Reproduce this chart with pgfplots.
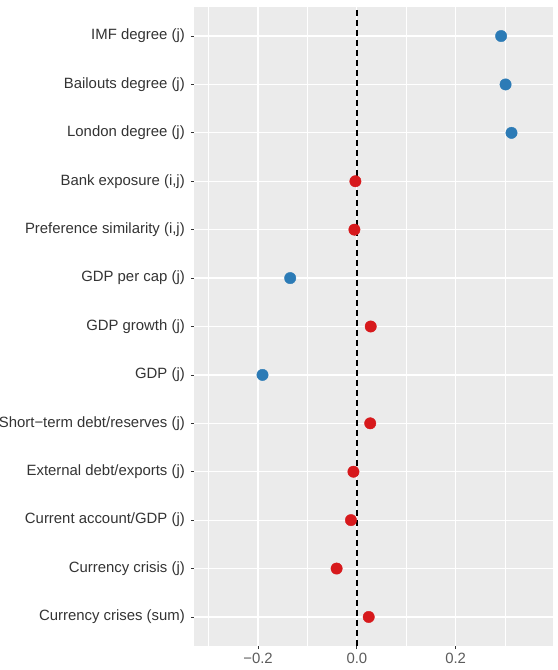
\documentclass[border=0pt]{standalone}
\usepackage{pgfplots}
\pgfplotsset{compat=1.18}
\usepackage{fontspec}
\setmainfont{Liberation Sans}

\definecolor{panelbg}{HTML}{EBEBEB}
\definecolor{ticktext}{HTML}{333333}
\definecolor{tickmark}{HTML}{333333}
\definecolor{negblue}{HTML}{2C7BB6}
\definecolor{posred}{HTML}{D7191C}

% Coefficients: y position (row, 0 = bottom) and estimate
\pgfplotstableread{
row est
12  0.292
11  0.301
10  0.313
 7 -0.135
 5 -0.191
}\bluepts
\pgfplotstableread{
row est
 9 -0.003
 8 -0.005
 6  0.028
 4  0.027
 3 -0.007
 2 -0.012
 1 -0.041
 0  0.024
}\redpts

\begin{document}
\begin{tikzpicture}
\useasboundingbox (-194bp,-24bp) rectangle (364bp,646bp);
\clip (-194bp,-24bp) rectangle (364bp,646bp);
\begin{axis}[
  at={(0,0)}, anchor=south west,
  scale only axis,
  width=359bp, height=639bp,
  xmin=-0.3297, xmax=0.397,
  ymin=-0.6, ymax=12.6,
  axis background/.style={fill=panelbg},
  axis line style={draw=none},
  xtick={-0.2,0,0.2},
  xticklabels={−0.2,0.0,0.2},
  minor xtick={-0.3,-0.1,0.1,0.3},
  ytick={0,...,12},
  yticklabels={Currency crises (sum),Currency crisis (j),Current account/GDP (j),External debt/exports (j),Short−term debt/reserves (j),GDP (j),GDP growth (j),GDP per cap (j),Preference similarity (i{,}j),Bank exposure (i{,}j),London degree (j),Bailouts degree (j),IMF degree (j)},
  tick align=outside,
  xtick pos=bottom, ytick pos=left,
  major tick length=3bp,
  minor tick length=0pt,
  tick style={color=tickmark, line width=0.8bp},
  grid=both,
  major grid style={white, line width=1.2bp},
  minor grid style={white, line width=0.7bp},
  ticklabel style={font=\fontsize{14.9bp}{17bp}\selectfont, text=ticktext},
  xticklabel style={inner sep=0pt, anchor=north, yshift=-4bp, text=ticktext!80!white},
  yticklabel style={inner sep=0pt, anchor=east, xshift=-6bp},
  clip=false,
]
\addplot[black, dash pattern=on 6bp off 4bp, line width=1.8bp] coordinates {(0,-0.6) (0,12.6)};
\addplot[only marks, mark=*, mark size=5.7bp, color=negblue, mark options={draw=negblue, fill=negblue}] table[x=est, y=row] {\bluepts};
\addplot[only marks, mark=*, mark size=5.7bp, color=posred, mark options={draw=posred, fill=posred}] table[x=est, y=row] {\redpts};
\end{axis}
\end{tikzpicture}
\end{document}
